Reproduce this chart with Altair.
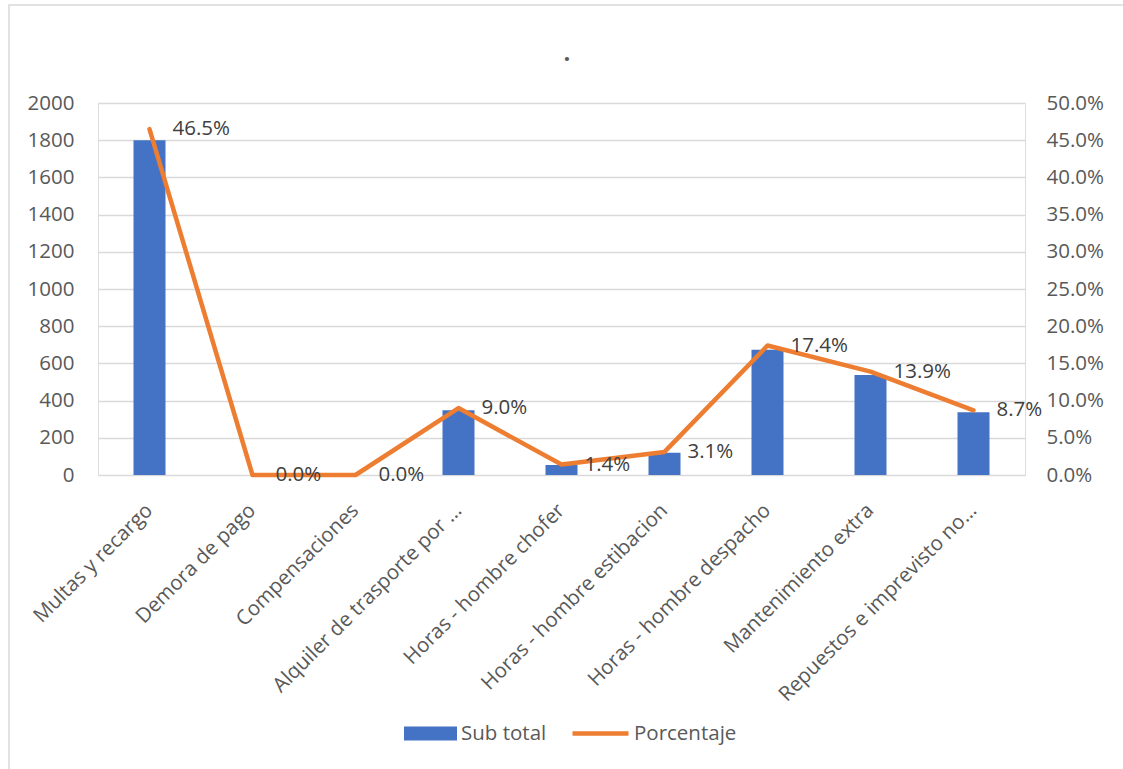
import altair as alt
import pandas as pd

categories = [
    "Multas y recargo",
    "Demora de pago",
    "Compensaciones",
    "Alquiler de trasporte por …",
    "Horas - hombre chofer",
    "Horas - hombre estibacion",
    "Horas - hombre despacho",
    "Mantenimiento extra",
    "Repuestos e imprevisto no…",
]
sub_total = [1800, 0, 0, 348, 54, 120, 673, 538, 337]
porcentaje = [0.465, 0.0, 0.0, 0.090, 0.014, 0.031, 0.174, 0.139, 0.087]
left_ticks = [0, 200, 400, 600, 800, 1000, 1200, 1400, 1600, 1800, 2000]
right_ticks = [0, 0.05, 0.10, 0.15, 0.20, 0.25, 0.30, 0.35, 0.40, 0.45, 0.50]
chart_title = "."

df = pd.DataFrame({
    "Categoria": categories,
    "Sub total": sub_total,
    "Porcentaje": porcentaje,
    "serie_bar": "Sub total",
    "serie_line": "Porcentaje",
})

FONT = "Open Sans"
TXT = "#595959"
W, H = 927, 372
FS = 20.5

xenc = alt.X(
    "Categoria:N", sort=categories,
    scale=alt.Scale(paddingInner=0, paddingOuter=0),
    axis=alt.Axis(title=None, labelAngle=-45, labelAlign="right", labelBaseline="middle",
                  labelPadding=32, ticks=False, domain=False, labelFontSize=FS,
                  labelColor=TXT, labelFont=FONT, labelLimit=500),
)

bars = alt.Chart(df).mark_bar(size=32).encode(
    x=xenc,
    y=alt.Y("Sub total:Q", scale=alt.Scale(domain=[0, 2000], nice=False),
            axis=alt.Axis(title=None, values=left_ticks, format="d", grid=True,
                          gridColor="#d9d9d9", gridWidth=1.3, ticks=False, domain=False,
                          labelPadding=24, labelFontSize=FS, labelColor=TXT, labelFont=FONT)),
    color=alt.Color("serie_bar:N",
                    scale=alt.Scale(domain=["Sub total"], range=["#4472C4"]),
                    legend=alt.Legend(title=None, orient="none", legendX=306, legendY=604,
                                      symbolType="M-1,-0.264H1V0.264H-1Z", symbolSize=2809,
                                      symbolStrokeWidth=0, symbolOpacity=1,
                                      labelFontSize=FS, labelColor=TXT, labelFont=FONT,
                                      labelOffset=4, padding=0)),
)

yline = alt.Scale(domain=[0, 0.5], nice=False)

line = alt.Chart(df).mark_line(strokeWidth=4.5, strokeCap="round", strokeJoin="round").encode(
    x=alt.X("Categoria:N", sort=categories),
    y=alt.Y("Porcentaje:Q", scale=yline,
            axis=alt.Axis(title=None, orient="right", values=right_ticks, format=".1%",
                          grid=False, ticks=False, domain=False, labelPadding=21,
                          labelFontSize=FS, labelColor=TXT, labelFont=FONT)),
    stroke=alt.Stroke("serie_line:N",
                      scale=alt.Scale(domain=["Porcentaje"], range=["#ED7D31"]),
                      legend=alt.Legend(title=None, orient="none", legendX=472, legendY=600,
                                        symbolType="M-1,0H1", symbolSize=3136,
                                        symbolStrokeWidth=4.5, symbolOpacity=1,
                                        labelFontSize=FS, labelColor=TXT, labelFont=FONT,
                                        labelOffset=3, padding=0)),
)

labels = alt.Chart(df).mark_text(align="left", baseline="middle", dx=23, fontSize=FS,
                                 color="#404040", font=FONT).encode(
    x=alt.X("Categoria:N", sort=categories),
    y=alt.Y("Porcentaje:Q", scale=yline, axis=None),
    text=alt.Text("Porcentaje:Q", format=".1%"),
)

border = alt.Chart(alt.Data(values=[{}])).mark_rect(
    fill="transparent", stroke="#d9d9d9", strokeWidth=1.5, clip=False
).encode(
    x=alt.value(-89), x2=alt.value(W + 130), y=alt.value(-98), y2=alt.value(H + 330)
)

title_mark = alt.Chart(alt.Data(values=[{"t": chart_title}])).mark_text(
    fontSize=24, fontWeight="bold", color=TXT, font=FONT, align="center",
    baseline="alphabetic", clip=False
).encode(
    text="t:N", x=alt.value(469), y=alt.value(-42)
)

chart = alt.layer(border, title_mark, bars, line, labels).resolve_scale(
    y="independent", color="independent"
).properties(
    width=W, height=H,
    autosize=alt.AutoSizeParams(type="none"),
    padding={"left": 98, "top": 103, "right": 98, "bottom": 294},
).configure_view(stroke=None).configure(background="white")

chart.save("out.html", embed_options={"renderer": "svg", "actions": False})
